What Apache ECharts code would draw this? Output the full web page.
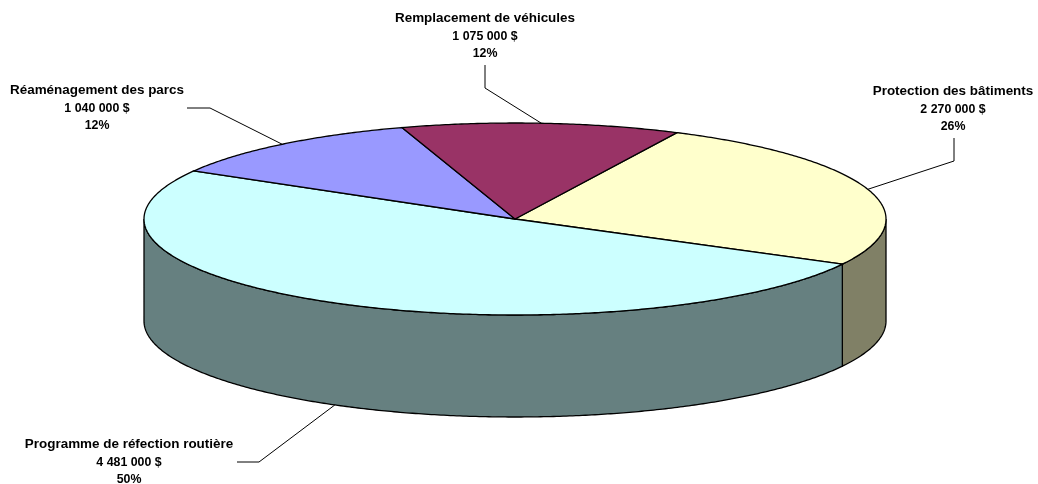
<!DOCTYPE html>
<html>
<head>
<meta charset="utf-8">
<title>Répartition des investissements</title>
<script src="https://cdn.jsdelivr.net/npm/echarts@6/dist/echarts.min.js"></script>
<style>
  html, body { margin: 0; padding: 0; background: #fff; }
  #pie { width: 1038px; height: 484px; }
</style>
</head>
<body>
<div id="pie"></div>
<script>
// données
const categories = ['Protection des bâtiments', 'Programme de réfection routière', 'Réaménagement des parcs', 'Remplacement de véhicules']
const amounts = [2270000, 4481000, 1040000, 1075000]
const amountLabels = ['2 270 000 $', '4 481 000 $', '1 040 000 $', '1 075 000 $']
const percentLabels = ['26%', '50%', '12%', '12%']

// couleurs dessus / côté
const topColors = ['#FFFFCC', '#CCFFFF', '#9999FF', '#993366']
const sideColors = ['#808066', '#668080', '#7A7ACC', '#7A2952']

// géométrie du disque en perspective
const cx = 515, cy = 219, rx = 371, ry = 96, depth = 102
const firstAngle = 25.9 // degrés, depuis le haut, sens horaire

// position des étiquettes : centre du texte et coude du trait de rappel
const labelPos = [[953, 92], [129, 445], [97, 91], [485, 19]]
const lineStep = 17.5
const leaderStart = [[954, 138], [237, 462], [187, 108], [485, 65]]
const leaderKnee = [[954, 161], [259, 462], [210, 108], [485, 88]]

const total = amounts.reduce((a, b) => a + b, 0)

// angle (degrés) -> point sur l'ellipse
function pt(deg, dy) {
  const a = deg * Math.PI / 180
  return [cx + rx * Math.sin(a), cy - ry * Math.cos(a) + (dy || 0)]
}

function arc(from, to, dy) {
  const pts = []
  const n = Math.max(2, Math.ceil(Math.abs(to - from) * 2))
  for (let i = 0; i <= n; i++) {
    pts.push(pt(from + (to - from) * i / n, dy))
  }
  return pts
}

function renderSlice(params, api) {
  const i = params.dataIndex
  let start = firstAngle
  for (let k = 0; k < i; k++) start += amounts[k] / total * 360
  const end = start + api.value(0) / total * 360
  const mid = (start + end) / 2
  const children = []

  // côté visible : seulement la moitié avant du disque
  for (const shift of [0, 360]) {
    const s = Math.max(start, 90 + shift)
    const e = Math.min(end, 270 + shift)
    if (s < e) {
      children.push({
        type: 'polygon',
        shape: { points: arc(s, e, 0).concat(arc(e, s, depth)) },
        style: { fill: sideColors[i], stroke: '#000', lineWidth: 1.3 }
      })
    }
  }

  // dessus
  children.push({
    type: 'polygon',
    shape: { points: [[cx, cy]].concat(arc(start, end, 0)) },
    style: { fill: topColors[i], stroke: '#000', lineWidth: 1.3 }
  })

  // trait de rappel : milieu de l'arc, sur le bas du côté pour la moitié avant
  const norm = mid % 360
  const tip = pt(mid, norm > 90 && norm < 270 ? depth : 0)
  children.push({
    type: 'polyline',
    shape: { points: [leaderStart[i], leaderKnee[i], tip] },
    style: { fill: null, stroke: '#000', lineWidth: 1 }
  })

  // étiquette : le nom est un peu élargi comme dans l'original
  const lines = [api.value(1), amountLabels[i], percentLabels[i]]
  lines.forEach((text, n) => {
    children.push({
      type: 'text',
      x: labelPos[i][0],
      y: labelPos[i][1] + n * lineStep,
      scaleX: n === 0 ? 1.12 : 1.03,
      style: {
        text: text,
        x: 0,
        y: 0,
        textAlign: 'center',
        textVerticalAlign: 'middle',
        font: 'bold 12px "Liberation Sans"',
        fill: '#000'
      }
    })
  })
  return { type: 'group', children: children }
}

const myChart = echarts.init(document.querySelector('#pie'))
const option = {
  animation: false,
  backgroundColor: '#fff',
  series: [
    {
      type: 'custom',
      coordinateSystem: 'none',
      renderItem: renderSlice,
      dimensions: ['amount', { name: 'name', type: 'ordinal' }],
      encode: { value: 0 },
      data: amounts.map((v, i) => [v, categories[i]])
    }
  ]
}
myChart.setOption(option)
</script>
</body>
</html>
